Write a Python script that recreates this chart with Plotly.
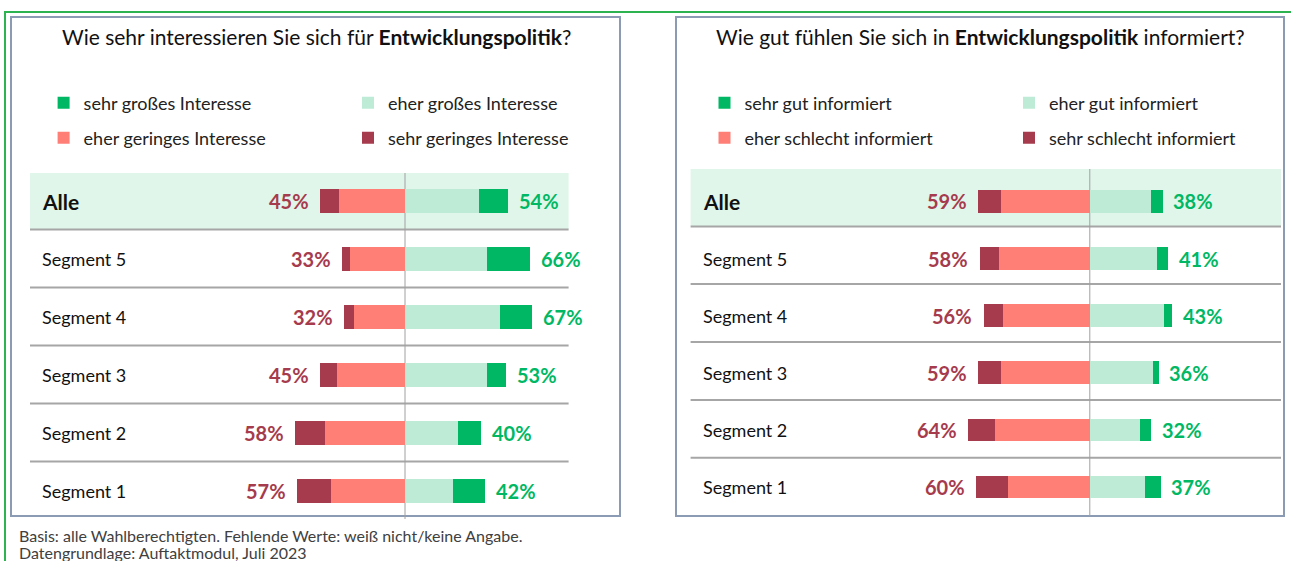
import plotly.graph_objects as go

W, H = 1291, 561

# ---------------- data ----------------
rows = ["Alle", "Segment 5", "Segment 4", "Segment 3", "Segment 2", "Segment 1"]

# left panel: Interesse
int_sehr_gross = [15, 23, 17, 10, 12, 17]
int_eher_gross = [39, 43, 50, 43, 28, 25]
int_eher_gering = [35, 29, 27, 36, 42, 39]
int_sehr_gering = [10, 4, 5, 9, 16, 18]
int_pos_total = [54, 66, 67, 53, 40, 42]
int_neg_total = [45, 33, 32, 45, 58, 57]

# right panel: informiert
inf_sehr_gut = [6, 6, 4, 3, 6, 8]
inf_eher_gut = [32, 35, 39, 33, 26, 29]
inf_eher_schlecht = [47, 48, 46, 47, 50, 43]
inf_sehr_schlecht = [12, 10, 10, 12, 14, 17]
inf_pos_total = [38, 41, 43, 36, 32, 37]
inf_neg_total = [59, 58, 56, 59, 64, 60]

names_int = ["sehr großes Interesse", "eher großes Interesse",
             "eher geringes Interesse", "sehr geringes Interesse"]
names_inf = ["sehr gut informiert", "eher gut informiert",
             "eher schlecht informiert", "sehr schlecht informiert"]

footnote_lines = ["Basis: alle Wahlberechtigten. Fehlende Werte: weiß nicht/keine Angabe.",
                  "Datengrundlage: Auftaktmodul, Juli 2023"]

# ---------------- styles ----------------
C_SG = "#00B864"      # sehr gut / groß
C_EG = "#BDEBD6"      # eher gut / groß
C_ES = "#FF7F77"      # eher schlecht / gering
C_SS = "#A63B4D"      # sehr schlecht / gering
C_RED_TXT = "#A63B4D"
C_GRN_TXT = "#00B864"
FONT = "Lato"

def px(x):
    return x / W

def py(y):
    return 1 - y / H

fig = go.Figure()

def add_panel(xa, ya, sg, eg, es, ss, names, legends, barw):
    # positive side: eher (near 0) then sehr
    fig.add_trace(go.Bar(y=rows, x=eg, orientation="h", marker_color=C_EG,
                         name=names[1], width=barw, xaxis=xa, yaxis=ya,
                         legend=legends[1], hoverinfo="x+name"))
    fig.add_trace(go.Bar(y=rows, x=sg, orientation="h", marker_color=C_SG,
                         name=names[0], width=barw, xaxis=xa, yaxis=ya,
                         legend=legends[0], hoverinfo="x+name"))
    fig.add_trace(go.Bar(y=rows, x=[-v for v in es], orientation="h", marker_color=C_ES,
                         name=names[2], width=barw, xaxis=xa, yaxis=ya,
                         legend=legends[2], hoverinfo="x+name"))
    fig.add_trace(go.Bar(y=rows, x=[-v for v in ss], orientation="h", marker_color=C_SS,
                         name=names[3], width=barw, xaxis=xa, yaxis=ya,
                         legend=legends[3], hoverinfo="x+name"))

add_panel("x", "y", int_sehr_gross, int_eher_gross, int_eher_gering, int_sehr_gering,
          names_int, ["legend", "legend2", "legend3", "legend4"], 0.41)
add_panel("x2", "y2", inf_sehr_gut, inf_eher_gut, inf_eher_schlecht, inf_sehr_schlecht,
          names_inf, ["legend5", "legend6", "legend7", "legend8"], 0.40)

for tr in fig.data:
    tr.marker.line.width = 0

# axes (pixel geometry)
L_C, L_S, L_X0, L_X1 = 405.0, 1.9, 30.0, 568.6
R_C, R_S, R_X0, R_X1 = 1089.8, 1.903, 690.6, 1281.0
L_Y0, L_Y1 = 172.0, 520.0
R_Y0, R_Y1 = 172.9, 515.5

ax_common = dict(visible=False, showgrid=False, zeroline=False, fixedrange=True)
fig.update_layout(
    xaxis=dict(domain=[px(L_X0), px(L_X1)],
               range=[(L_X0 - L_C) / L_S, (L_X1 - L_C) / L_S], anchor="y", **ax_common),
    yaxis=dict(domain=[py(L_Y1), py(L_Y0)], range=[5.5, -0.5], anchor="x",
               categoryorder="array", categoryarray=rows, **ax_common),
    xaxis2=dict(domain=[px(R_X0), px(R_X1)],
                range=[(R_X0 - R_C) / R_S, (R_X1 - R_C) / R_S], anchor="y2", **ax_common),
    yaxis2=dict(domain=[py(R_Y1), py(R_Y0)], range=[5.5, -0.5], anchor="x2",
                categoryorder="array", categoryarray=rows, **ax_common),
)

shapes = []
# outer green frame
shapes.append(dict(type="rect", xref="paper", yref="paper", x0=px(5), x1=px(1310),
                   y0=py(590), y1=py(12), line=dict(color="#2DB34F", width=2),
                   fillcolor="rgba(0,0,0,0)", layer="below"))
# panel boxes
for x0, x1 in [(11, 620), (676, 1284)]:
    shapes.append(dict(type="rect", xref="paper", yref="paper", x0=px(x0), x1=px(x1),
                       y0=py(516), y1=py(17), line=dict(color="#8C9BB4", width=2),
                       fillcolor="rgba(0,0,0,0)", layer="below"))
# Alle bands
shapes.append(dict(type="rect", xref="paper", yref="paper", x0=px(30), x1=px(568.6),
                   y0=py(229), y1=py(173), line=dict(width=0), fillcolor="#E0F6EA", layer="below"))
shapes.append(dict(type="rect", xref="paper", yref="paper", x0=px(690.6), x1=px(1281),
                   y0=py(226), y1=py(169), line=dict(width=0), fillcolor="#E0F6EA", layer="below"))
# separators
for yy in [229.5, 287.5, 345.5, 403.5, 461.5]:
    shapes.append(dict(type="line", xref="paper", yref="paper", x0=px(30), x1=px(568.6),
                       y0=py(yy), y1=py(yy), line=dict(color="#A6A6A6", width=2), layer="below"))
for yy in [226.5, 284, 342, 400, 457.7]:
    shapes.append(dict(type="line", xref="paper", yref="paper", x0=px(690.6), x1=px(1281),
                       y0=py(yy), y1=py(yy), line=dict(color="#A6A6A6", width=2), layer="below"))
# center lines
shapes.append(dict(type="line", xref="x", yref="paper", x0=0, x1=0, y0=py(519), y1=py(173),
                   line=dict(color="#A0A0A0", width=1), layer="below"))
shapes.append(dict(type="line", xref="x2", yref="paper", x0=0, x1=0, y0=py(516), y1=py(169),
                   line=dict(color="#A0A0A0", width=1), layer="below"))

ann = []
# titles
ann.append(dict(text="Wie sehr interessieren Sie sich für <b>Entwicklungspolitik</b>?",
                x=px(316.5), y=py(37), xref="paper", yref="paper", showarrow=False,
                xanchor="center", yanchor="middle", font=dict(family=FONT, size=21, color="#111111")))
ann.append(dict(text="Wie gut fühlen Sie sich in <b>Entwicklungspolitik</b> informiert?",
                x=px(980.5), y=py(37), xref="paper", yref="paper", showarrow=False,
                xanchor="center", yanchor="middle", font=dict(family=FONT, size=21, color="#111111")))

# row labels + percent labels
for (xa, ya, lx, pos_t, neg_t) in [("x", "y", 40, int_pos_total, int_neg_total),
                                   ("x2", "y2", 701, inf_pos_total, inf_neg_total)]:
    for i, r in enumerate(rows):
        bold = (r == "Alle")
        ann.append(dict(text=f"<b>{r}</b>" if bold else r, x=px(lx), y=r,
                        xref="paper", yref=ya, showarrow=False, xanchor="left", yanchor="middle",
                        font=dict(family=FONT, size=21 if bold else 18, color="#111111")))
        ann.append(dict(text=f"<b>{neg_t[i]}%</b>", x=-neg_t[i], y=r, xref=xa, yref=ya,
                        showarrow=False, xanchor="right", yanchor="middle", xshift=-9,
                        font=dict(family=FONT, size=20, color=C_RED_TXT)))
        ann.append(dict(text=f"<b>{pos_t[i]}%</b>", x=pos_t[i], y=r, xref=xa, yref=ya,
                        showarrow=False, xanchor="left", yanchor="middle", xshift=9,
                        font=dict(family=FONT, size=20, color=C_GRN_TXT)))

# footnote (two tightly spaced lines)
for line, yc in zip(footnote_lines, [535, 552]):
    ann.append(dict(text=line, x=px(18), y=py(yc), xref="paper", yref="paper", showarrow=False,
                    xanchor="left", yanchor="middle", align="left", borderpad=0,
                    font=dict(family=FONT, size=16, color="#404040")))

# legends (one per item, laid out as 2x2 grid per panel)
leg_font = dict(family=FONT, size=18, color="#222222")
def leg(xtext, ytext):
    return dict(x=px(xtext - 38), y=py(ytext), xref="paper", yref="paper",
                xanchor="left", yanchor="middle", bgcolor="rgba(0,0,0,0)",
                borderwidth=0, font=leg_font, itemclick=False, itemdoubleclick=False)

fig.update_layout(
    legend=leg(81.6, 103), legend2=leg(386, 103), legend3=leg(81.6, 138), legend4=leg(386, 138),
    legend5=leg(742.5, 103), legend6=leg(1047, 103), legend7=leg(742.5, 138), legend8=leg(1047, 138),
)

fig.update_layout(
    width=W, height=H, autosize=False,
    margin=dict(l=0, r=0, t=0, b=0),
    barmode="relative", bargap=0,
    paper_bgcolor="white", plot_bgcolor="rgba(0,0,0,0)",
    shapes=shapes, annotations=ann, showlegend=True,
    font=dict(family=FONT),
)

fig.write_html("out.html", config={"displayModeBar": False},
               post_script="document.body.style.margin='0px';document.body.style.overflow='hidden';")
